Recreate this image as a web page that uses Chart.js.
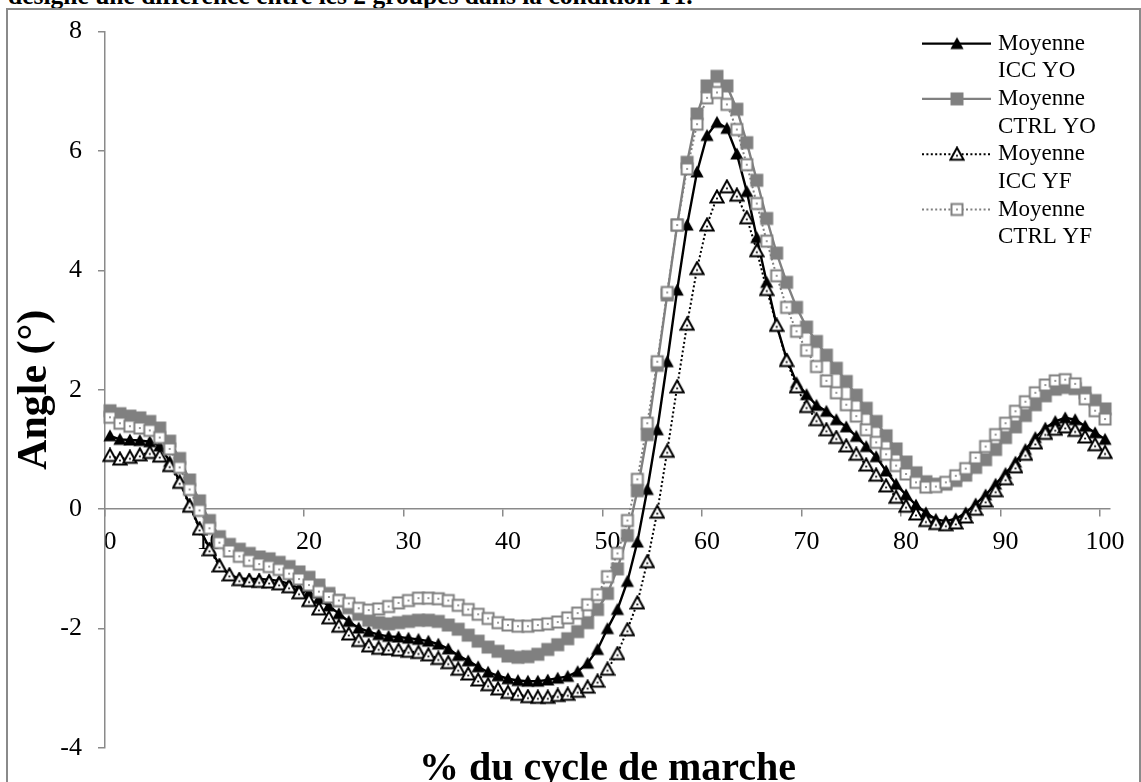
<!DOCTYPE html>
<html lang="fr">
<head>
<meta charset="UTF-8">
<title>Angle - cycle de marche</title>
<script src="https://cdn.jsdelivr.net/npm/chart.js@4.4.1/dist/chart.umd.min.js"></script>
<style>
	html, body { margin: 0; padding: 0; background: #fff; }
	#wrap { position: relative; width: 1141px; height: 782px; overflow: hidden; background: #fff; }
	#head { position: absolute; left: 8px; top: -17px; font: bold 25.5px/25px "Liberation Serif", "Times New Roman", serif; white-space: nowrap; color: #000; }
	#frame { position: absolute; left: 6px; top: 8px; width: 1135px; height: 900px; border: 2px solid #8a8a8a; box-sizing: border-box; }
	#mainChart { position: absolute; left: 0; top: 0; }
</style>
</head>
<body>
<div id="wrap">
	<div id="head">désigne une différence entre les 2 groupes dans la condition T1.</div>
	<div id="frame"></div>
	<canvas id="mainChart" width="1141" height="782"></canvas>
</div>

<script>
// % du cycle de marche: 0..100, one value per percent
const xLabels = Array.from({length: 101}, (_, i) => String(i))
const xTickLabels = ["0", "10", "20", "30", "40", "50", "60", "70", "80", "90", "100"]
const yTicks = [-4, -2, 0, 2, 4, 6, 8]

const legendLines = [["Moyenne", "ICC YO"], ["Moyenne", "CTRL YO"], ["Moyenne", "ICC YF"], ["Moyenne", "CTRL YF"]]

const iccYO = [
	1.23, 1.17, 1.16, 1.15, 1.13, 1.06, 0.80, 0.47, 0.08, -0.32,
	-0.65, -0.93, -1.10, -1.16, -1.17, -1.17, -1.18, -1.20, -1.25, -1.32,
	-1.40, -1.50, -1.62, -1.75, -1.88, -1.99, -2.05, -2.10, -2.13, -2.14,
	-2.16, -2.18, -2.21, -2.26, -2.34, -2.45, -2.54, -2.64, -2.73, -2.79,
	-2.84, -2.87, -2.88, -2.88, -2.86, -2.83, -2.80, -2.72, -2.58, -2.35,
	-2.00, -1.68, -1.21, -0.55, 0.33, 1.33, 2.47, 3.67, 4.76, 5.65,
	6.26, 6.48, 6.38, 5.95, 5.32, 4.55, 3.80, 3.08, 2.52, 2.12,
	1.92, 1.74, 1.64, 1.50, 1.38, 1.22, 1.05, 0.88, 0.64, 0.42,
	0.24, 0.07, -0.06, -0.17, -0.20, -0.16, -0.06, 0.09, 0.24, 0.42,
	0.60, 0.79, 1.00, 1.20, 1.36, 1.47, 1.53, 1.50, 1.39, 1.28,
	1.17
]
const ctrlYO = [
	1.65, 1.60, 1.56, 1.53, 1.47, 1.36, 1.14, 0.85, 0.49, 0.14,
	-0.19, -0.46, -0.59, -0.67, -0.74, -0.80, -0.83, -0.89, -0.96, -1.05,
	-1.14, -1.27, -1.41, -1.53, -1.65, -1.76, -1.86, -1.90, -1.92, -1.90,
	-1.88, -1.86, -1.86, -1.88, -1.94, -2.01, -2.11, -2.21, -2.31, -2.38,
	-2.46, -2.48, -2.47, -2.43, -2.35, -2.27, -2.17, -2.05, -1.90, -1.68,
	-1.41, -1.00, -0.44, 0.31, 1.25, 2.41, 3.59, 4.76, 5.81, 6.62,
	7.09, 7.25, 7.09, 6.70, 6.14, 5.51, 4.87, 4.29, 3.80, 3.38,
	3.05, 2.81, 2.58, 2.36, 2.14, 1.91, 1.69, 1.47, 1.23, 1.01,
	0.79, 0.61, 0.46, 0.42, 0.42, 0.48, 0.57, 0.70, 0.83, 1.00,
	1.20, 1.38, 1.57, 1.75, 1.90, 2.01, 2.04, 2.02, 1.95, 1.82,
	1.68
]
const iccYF = [
	0.90, 0.84, 0.87, 0.91, 0.95, 0.89, 0.73, 0.45, 0.05, -0.33,
	-0.68, -0.95, -1.10, -1.18, -1.20, -1.21, -1.22, -1.25, -1.30, -1.40,
	-1.53, -1.67, -1.82, -1.96, -2.09, -2.20, -2.29, -2.33, -2.34, -2.36,
	-2.38, -2.40, -2.44, -2.50, -2.57, -2.68, -2.76, -2.86, -2.94, -3.01,
	-3.07, -3.10, -3.14, -3.15, -3.15, -3.12, -3.10, -3.05, -2.98, -2.88,
	-2.68, -2.42, -2.02, -1.57, -0.88, -0.05, 0.97, 2.05, 3.10, 4.03,
	4.76, 5.23, 5.40, 5.26, 4.88, 4.33, 3.68, 3.08, 2.49, 2.05,
	1.72, 1.50, 1.33, 1.20, 1.06, 0.92, 0.74, 0.57, 0.39, 0.20,
	0.05, -0.08, -0.19, -0.24, -0.26, -0.23, -0.13, 0.00, 0.14, 0.31,
	0.51, 0.71, 0.92, 1.11, 1.27, 1.34, 1.38, 1.32, 1.21, 1.08,
	0.95
]
const ctrlYF = [
	1.54, 1.44, 1.39, 1.36, 1.32, 1.20, 1.01, 0.70, 0.33, -0.02,
	-0.32, -0.56, -0.70, -0.79, -0.86, -0.92, -0.96, -1.01, -1.08, -1.17,
	-1.27, -1.38, -1.47, -1.53, -1.58, -1.66, -1.69, -1.67, -1.63, -1.57,
	-1.53, -1.49, -1.49, -1.50, -1.53, -1.61, -1.68, -1.76, -1.83, -1.90,
	-1.94, -1.96, -1.96, -1.94, -1.92, -1.89, -1.82, -1.74, -1.60, -1.43,
	-1.13, -0.74, -0.19, 0.50, 1.44, 2.47, 3.63, 4.76, 5.70, 6.45,
	6.89, 6.98, 6.78, 6.36, 5.77, 5.12, 4.49, 3.91, 3.38, 2.98,
	2.66, 2.39, 2.15, 1.95, 1.75, 1.56, 1.33, 1.12, 0.92, 0.73,
	0.59, 0.45, 0.37, 0.38, 0.45, 0.56, 0.68, 0.86, 1.05, 1.25,
	1.44, 1.64, 1.80, 1.95, 2.08, 2.15, 2.17, 2.10, 1.85, 1.65,
	1.51
]

const serif = '"Liberation Serif", "Times New Roman", serif'
const axisGray = "#8a8a8a"
const seriesGray = "#808080"

// excel-like markers, drawn once into small canvases
function marker(shape, fill, stroke, lw, dot) {
	const cv = document.createElement("canvas")
	cv.width = 16
	cv.height = 16
	const g = cv.getContext("2d")
	g.beginPath()
	if(shape === "tri") {
		g.moveTo(8, 1.5)
		g.lineTo(14.6, 13.5)
		g.lineTo(1.4, 13.5)
		g.closePath()
	} else if(lw) {
		g.rect(2.5, 2.5, 11, 11)
	} else {
		g.rect(1.5, 1.5, 13, 13)
	}
	g.fillStyle = fill
	g.fill()
	if(lw) {
		g.lineWidth = lw
		g.strokeStyle = stroke
		g.stroke()
	}
	if(dot) {
		g.fillStyle = stroke
		g.fillRect(7.1, shape === "tri" ? 8.6 : 7.1, 1.8, 1.8)
	}
	return cv
}

const markers = [
	marker("tri", "#000", null, 0, false),
	marker("sq", seriesGray, null, 0, false),
	marker("tri", "#fff", "#000", 2, true),
	marker("sq", "#fff", seriesGray, 2, true)
]

const legendPlugin = {
	id: "sideLegend",
	afterDraw(chart) {
		const c = chart.ctx
		const area = chart.chartArea
		const x0 = area.right - 188
		chart.data.datasets.forEach((ds, i) => {
			const y = area.top + 12 + i * 55.3
			c.save()
			c.strokeStyle = ds.borderColor
			c.lineWidth = ds.borderWidth
			c.setLineDash(ds.borderDash || [])
			c.beginPath()
			c.moveTo(x0, y)
			c.lineTo(x0 + 69, y)
			c.stroke()
			c.setLineDash([])
			c.drawImage(ds.pointStyle, x0 + 35 - 8, y - 8)
			c.fillStyle = "#000"
			c.font = `23px ${serif}`
			c.textBaseline = "middle"
			c.textAlign = "left"
			legendLines[i].forEach((line, j) => c.fillText(line, x0 + 76, y + j * 27.6))
			c.restore()
		})
	}
}

const seriesData = [iccYO, ctrlYO, iccYF, ctrlYF]
const seriesColors = ["#000", seriesGray, "#000", seriesGray]
const seriesDash = [[], [], [2, 2.4], [2, 2.4]]
const seriesWidth = [2.4, 2.4, 2, 2]

new Chart(document.getElementById("mainChart"), {
	type: "line",
	data: {
		labels: xLabels,
		datasets: seriesData.map((data, i) => ({
			label: legendLines[i].join(" "),
			data: data,
			borderColor: seriesColors[i],
			borderWidth: seriesWidth[i],
			borderDash: seriesDash[i],
			pointStyle: markers[i],
			pointRadius: 7,
			pointHoverRadius: 7,
			tension: 0,
			order: 3 - i
		}))
	},
	options: {
		responsive: false,
		animation: false,
		events: [],
		layout: {padding: {left: 8, right: 31, top: 25, bottom: 0}},
		scales: {
			x: {
				type: "category",
				offset: true,
				position: {y: 0},
				ticks: {
					autoSkip: false,
					maxRotation: 0,
					minRotation: 0,
					padding: 10,
					color: "#000",
					font: {family: serif, size: 26},
					callback: (v, i) => xTickLabels.includes(xLabels[i]) ? xLabels[i] : ""
				},
				grid: {
					offset: true,
					drawOnChartArea: false,
					tickLength: 7,
					lineWidth: 1.5,
					color: c => c.index % 10 === 0 ? axisGray : "rgba(0,0,0,0)"
				},
				border: {color: axisGray, width: 1.5}
			},
			y: {
				type: "linear",
				min: -4,
				max: 8,
				afterBuildTicks: axis => { axis.ticks = yTicks.map(v => ({value: v})) },
				afterFit: s => { s.width = 97 },
				ticks: {
					padding: 16,
					color: "#000",
					font: {family: serif, size: 26}
				},
				grid: {drawOnChartArea: false, tickLength: 7, lineWidth: 1.5, color: axisGray},
				border: {color: axisGray, width: 1.5},
				title: {
					display: true,
					text: "Angle (°)",
					color: "#000",
					font: {family: serif, size: 42, weight: "bold", lineHeight: 1},
					padding: {top: 6, bottom: 0}
				}
			}
		},
		plugins: {
			legend: {display: false},
			tooltip: {enabled: false},
			title: {
				display: true,
				position: "bottom",
				fullSize: false,
				text: "% du cycle de marche",
				color: "#000",
				font: {family: serif, size: 40, weight: "bold", lineHeight: 0.64},
				padding: {top: 8.4, bottom: 0}
			}
		}
	},
	plugins: [legendPlugin]
})
</script>
</body>
</html>
